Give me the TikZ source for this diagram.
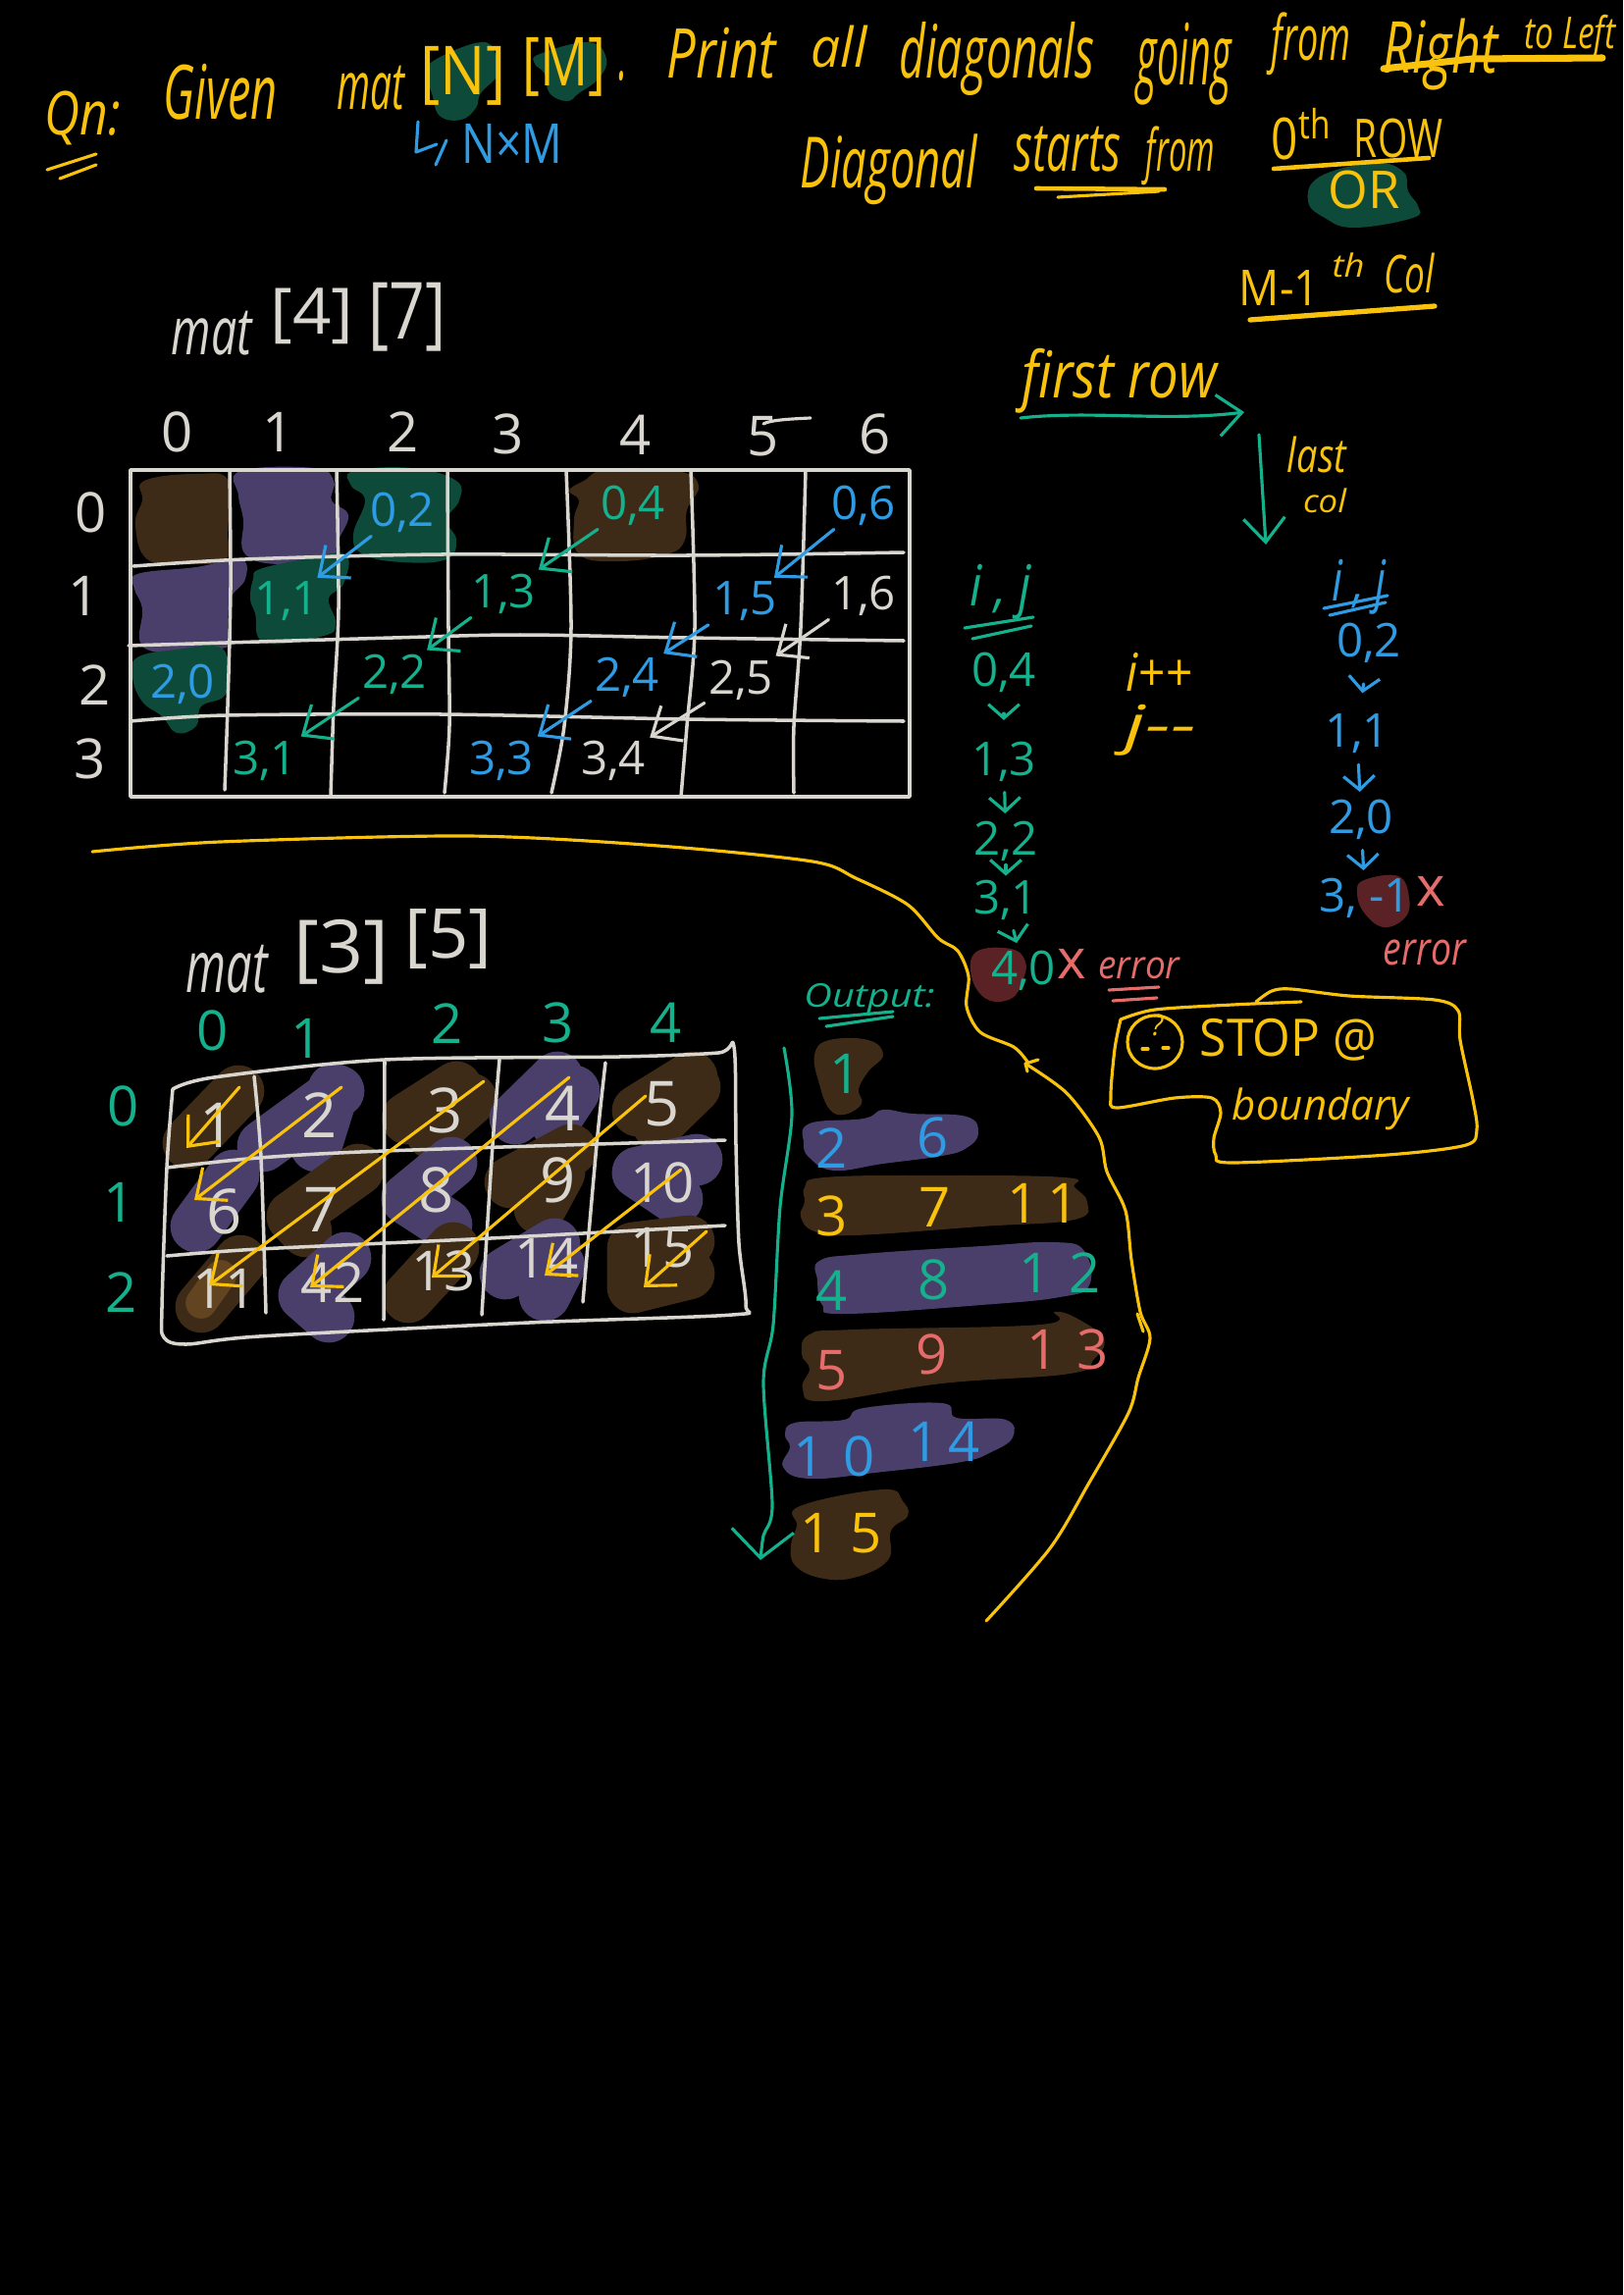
\documentclass[tikz,border=0pt]{standalone}
\usepackage{graphicx}
\usepackage{fontspec}
\setmainfont{Open Sans}
\usetikzlibrary{arrows.meta}

\definecolor{inkyellow}{HTML}{F8C20D}
\definecolor{inkteal}{HTML}{15B08C}
\definecolor{inkblue}{HTML}{2F9BE2}
\definecolor{inkwhite}{HTML}{D9D6CF}
\definecolor{inkpink}{HTML}{E66B6B}
\definecolor{blobbrown}{HTML}{3D2A17}
\definecolor{blobpurple}{HTML}{4A3F6B}
\definecolor{blobgreen}{HTML}{0E4A3A}
\definecolor{blobred}{HTML}{5A2225}
\definecolor{blobtan}{HTML}{634420}

\newcommand{\hand}[3]{\resizebox*{#1cm}{#2cm}{\itshape #3}}
\newcommand{\blob}[2]{\fill[#1] plot[smooth cycle,tension=0.7] coordinates {#2};}

\tikzset{
  word/.style={inner sep=0pt,text=#1},
  num/.style={inner sep=1pt,text=#1,font=\fontsize{13.5}{14}\selectfont},
  big/.style={inner sep=1pt,text=#1,font=\fontsize{16}{16}\selectfont},
  huge/.style={inner sep=1pt,text=#1,font=\fontsize{18}{18}\selectfont},
  ink/.style={draw=#1,line width=0.9pt,line cap=round,line join=round},
  gridline/.style={draw=inkwhite,line width=1pt,line cap=round,line join=round},
  tipbig/.style={ink=#1,-{Straight Barb[length=7pt,width=12pt]}},
  tipsmall/.style={ink=#1,shorten <=2pt,shorten >=1pt,-{Straight Barb[length=4pt,width=9pt]}},
  swipe/.style={draw=#1,line width=15pt,line cap=round,line join=round},
}

\begin{document}
\begin{tikzpicture}[x=0.01cm,y=-0.01cm]
        \useasboundingbox (0,0) rectangle (1654,2339);
        \fill[black] (0,0) rectangle (1654,2339);

        % Highlights of the heading
        \blob{blobgreen}{(445,60)(490,43)(505,55)(508,75)(490,95)(485,110)(470,122)(448,118)(440,95)(434,75)}
        \blob{blobgreen}{(550,55)(600,43)(618,60)(610,80)(590,95)(578,103)(560,95)(555,75)(545,65)}
        \blob{blobgreen}{(1345,180)(1400,166)(1430,175)(1435,195)(1445,210)(1440,222)(1380,232)(1350,222)(1333,205)}

        % Heading
        \node[word=inkyellow] (Qn) at (84,120) {\hand{0.77}{0.55}{Qn:}};
        \node[word=inkyellow] (Given) at (225,94) {\hand{1.16}{0.57}{Given}};
        \node[word=inkyellow] (Mat) at (378,90) {\hand{0.69}{0.45}{mat}};
        \node[word=inkyellow] (BrN) at (472,77) {\hand{0.87}{0.60}{\upshape [N]}};
        \node[word=inkyellow] (BrM) at (575,68) {\hand{0.85}{0.60}{\upshape [M]}};
        \node[word=inkyellow] (Dot) at (635,78) {\hand{0.09}{0.10}{.}};
        \node[word=inkyellow] (Print) at (735,54) {\hand{1.11}{0.52}{Print}};
        \node[word=inkyellow] (All) at (855,48) {\hand{0.57}{0.43}{all}};
        \node[word=inkyellow] (Diags) at (1016,60) {\hand{1.99}{0.75}{diagonals}};
        \node[word=inkyellow] (Going) at (1207,65) {\hand{0.96}{0.84}{going}};
        \node[word=inkyellow] (FromA) at (1336,45) {\hand{0.81}{0.64}{from}};
        \node[word=inkyellow] (Right) at (1468,56) {\hand{1.17}{0.73}{Right}};
        \node[word=inkyellow] (ToLeft) at (1600,38) {\hand{0.93}{0.45}{to Left}};
        \node[word=inkblue] (Size) at (522,146) {\hand{1.03}{0.40}{\upshape N×M}};
        \draw[ink=inkblue] (426,124) -- (424,155) -- (445,147);
        \draw[ink=inkblue] (455,143) -- (444,168);
        \draw[ink=inkyellow] (48,173) -- (98,157);
        \draw[ink=inkyellow] (61,182) -- (98,168);
        \draw[ink=inkyellow,line width=2pt] (1410,70) -- (1500,60) -- (1633,59);

        \node[word=inkyellow] (Diagonal) at (906,173) {\hand{1.80}{0.72}{Diagonal}};
        \node[word=inkyellow] (Starts) at (1088,152) {\hand{1.09}{0.46}{starts}};
        \node[word=inkyellow] (FromB) at (1203,159) {\hand{0.70}{0.60}{from}};
        \node[word=inkyellow] (Zeroth) at (1327,137) {\hand{0.62}{0.53}{\upshape 0\textsuperscript{th}}};
        \node[word=inkyellow] (Row) at (1425,141) {\hand{0.90}{0.40}{\upshape ROW}};
        \node[word=inkyellow] (Or) at (1390,194) {\hand{0.73}{0.39}{\upshape OR}};
        \node[word=inkyellow] (Mminus) at (1304,293) {\hand{0.82}{0.36}{\upshape M-1}};
        \node[word=inkyellow] (Th) at (1374,270) {\hand{0.33}{0.25}{th}};
        \node[word=inkyellow] (Col) at (1436,279) {\hand{0.52}{0.41}{Col}};
        \draw[ink=inkyellow,line width=1.3pt] (1056,192) -- (1187,193);
        \draw[ink=inkyellow] (1078,201) -- (1181,195);
        \draw[ink=inkyellow,line width=1.3pt] (1298,172) -- (1456,161);
        \draw[ink=inkyellow,line width=1.5pt] (1274,326) -- (1462,312);

        % First row / last col
        \node[word=inkyellow] (FirstRow) at (1141,388) {\hand{1.99}{0.66}{first row}};
        \node[word=inkyellow] (Last) at (1342,463) {\hand{0.60}{0.37}{last}};
        \node[word=inkyellow] (ColB) at (1350,510) {\hand{0.44}{0.25}{col}};
        \coordinate (RowA) at (1040,426);
        \coordinate (RowB) at (1268,420);
        \coordinate (ColA) at (1283,443);
        \coordinate (ColZ) at (1290,555);
        \draw[tipbig=inkteal] (RowA) .. controls (1110,418) and (1190,430) .. (RowB);
        \draw[tipbig=inkteal] (ColA) -- (ColZ);

        % mat[4][7]
        \node[word=inkwhite] (MatA) at (216,340) {\hand{0.82}{0.45}{mat}};
        \node[word=inkwhite] (BrFour) at (318,322) {\hand{0.85}{0.57}{\upshape [4]}};
        \node[word=inkwhite] (BrSeven) at (415,323) {\hand{0.79}{0.70}{\upshape [7]}};

        \blob{blobbrown}{(147,490)(200,483)(233,490)(232,540)(230,570)(190,575)(150,570)(138,535)(145,510)}
        \blob{blobpurple}{(245,480)(320,477)(340,490)(338,510)(355,525)(345,550)(340,565)(290,575)(250,565)(248,530)(243,505)}
        \blob{blobgreen}{(360,480)(420,477)(465,490)(468,510)(455,530)(465,550)(455,570)(410,573)(370,565)(360,545)(372,510)(358,495)}
        \blob{blobbrown}{(595,490)(620,478)(690,480)(712,495)(700,520)(698,550)(680,565)(630,572)(590,565)(585,530)(590,510)(580,500)}
        \blob{blobpurple}{(140,585)(200,578)(245,570)(250,590)(235,610)(232,640)(230,660)(150,662)(145,620)(137,600)}
        \blob{blobgreen}{(265,580)(310,570)(352,565)(350,595)(335,610)(342,635)(330,648)(270,655)(260,625)(255,610)(258,590)}
        \blob{blobgreen}{(140,670)(180,662)(225,660)(232,690)(228,710)(205,720)(200,740)(180,747)(165,730)(145,715)(135,690)}

        % Grid 4x7
        \draw[gridline] (133,479) rectangle (927,812);
        \draw[gridline] plot[smooth] coordinates {(234,479)(235,600)(232,720)(229,805)};
        \draw[gridline] plot[smooth] coordinates {(343,479)(345,620)(340,720)(337,812)};
        \draw[gridline] plot[smooth] coordinates {(456,479)(457,640)(458,740)(453,808)};
        \draw[gridline] plot[smooth] coordinates {(577,479)(582,640)(575,740)(562,808)};
        \draw[gridline] plot[smooth] coordinates {(704,479)(708,640)(700,740)(694,812)};
        \draw[gridline] plot[smooth] coordinates {(821,479)(816,640)(809,740)(809,808)};
        \draw[gridline] plot[smooth] coordinates {(136,577)(250,570)(450,565)(700,566)(921,563)};
        \draw[gridline] plot[smooth] coordinates {(131,658)(400,650)(530,647)(700,650)(921,653)};
        \draw[gridline] plot[smooth] coordinates {(133,735)(230,729)(450,728)(700,733)(921,735)};

        \node[big=inkwhite] (CA0) at (181,440) {0};
        \node[big=inkwhite] (CA1) at (284,440) {1};
        \node[big=inkwhite] (CA2) at (411,440) {2};
        \node[big=inkwhite] (CA3) at (518,442) {3};
        \node[big=inkwhite] (CA4) at (648,443) {4};
        \node[big=inkwhite] (CA5) at (778,445) {5};
        \node[big=inkwhite] (CA6) at (892,442) {6};
        \draw[ink=inkwhite] (778,432) .. controls (785,428) and (805,427) .. (826,426);
        \node[big=inkwhite] (RA0) at (93,522) {0};
        \node[big=inkwhite] (RA1) at (86,607) {1};
        \node[big=inkwhite] (RA2) at (97,698) {2};
        \node[big=inkwhite] (RA3) at (92,773) {3};

        \node[num=inkblue] (A02) at (410,522) {0,2};
        \node[num=inkteal] (A04) at (645,515) {0,4};
        \node[num=inkblue] (A06) at (880,515) {0,6};
        \node[num=inkteal] (A11) at (292,613) {1,1};
        \node[num=inkteal] (A13) at (513,605) {1,3};
        \node[num=inkblue] (A15) at (759,613) {1,5};
        \node[num=inkwhite] (A16) at (880,607) {1,6};
        \node[num=inkblue] (A20) at (186,697) {2,0};
        \node[num=inkteal] (A22) at (402,687) {2,2};
        \node[num=inkblue] (A24) at (639,690) {2,4};
        \node[num=inkwhite] (A25) at (755,693) {2,5};
        \node[num=inkteal] (A31) at (270,775) {3,1};
        \node[num=inkblue] (A33) at (511,775) {3,3};
        \node[num=inkwhite] (A34) at (625,775) {3,4};

        \draw[tipbig=inkblue] (A02) -- (A11);
        \draw[tipbig=inkblue] (A06) -- (A15);
        \draw[tipbig=inkblue] (A15) -- (A24);
        \draw[tipbig=inkblue] (A24) -- (A33);
        \draw[tipbig=inkteal] (A04) -- (A13);
        \draw[tipbig=inkteal] (A13) -- (A22);
        \draw[tipbig=inkteal] (A22) -- (A31);
        \draw[tipbig=inkwhite] (A16) -- (A25);
        \draw[tipbig=inkwhite] (A25) -- (A34);

        % Traces i,j
        \blob{blobred}{(995,970)(1030,967)(1045,980)(1042,1000)(1030,1018)(1005,1018)(990,995)}
        \blob{blobred}{(1390,897)(1425,893)(1436,915)(1432,935)(1410,945)(1390,930)(1383,910)}

        \node[num=inkteal] (TH) at (1020,603) {\hand{0.62}{0.56}{i , j}};
        \node[num=inkteal] (T04) at (1023,685) {0,4};
        \node[num=inkteal] (T13) at (1023,776) {1,3};
        \node[num=inkteal] (T22) at (1025,857) {2,2};
        \node[num=inkteal] (T31) at (1025,917) {3,1};
        \node[num=inkteal] (T40) at (1043,989) {4,0};
        \draw[ink=inkteal] (983,640) -- (1053,629);
        \draw[ink=inkteal] (991,651) -- (1051,638);
        \draw[tipsmall=inkteal,shorten <=5pt,shorten >=5pt] (T04) -- (T13);
        \draw[tipsmall=inkteal] (T13) -- (T22);
        \draw[tipsmall=inkteal,shorten <=0pt,shorten >=0pt] (T22) -- (T31);
        \draw[tipsmall=inkteal] (T31) -- (T40);
        \node[big=inkpink] (CrossA) at (1092,982) {x};
        \node[word=inkpink] (ErrA) at (1161,987) {\hand{0.83}{0.22}{error}};
        \draw[ink=inkpink] (1130,1009) -- (1181,1006);
        \draw[ink=inkpink] (1134,1020) -- (1179,1017);

        \node[word=inkyellow] (IncI) at (1181,685) {\hand{0.67}{0.39}{i++}};
        \node[word=inkyellow] (DecJ) at (1183,744) {\hand{0.72}{0.52}{j{-}{-}}};

        \node[num=inkblue] (UH) at (1385,598) {\hand{0.55}{0.56}{i , j}};
        \node[num=inkblue] (U02) at (1395,655) {0,2};
        \node[num=inkblue] (U11) at (1383,748) {1,1};
        \node[num=inkblue] (U20) at (1387,835) {2,0};
        \node[num=inkblue] (U31) at (1391,915) {3, -1};
        \draw[ink=inkblue] (1349,620) -- (1414,607);
        \draw[ink=inkblue] (1355,627) -- (1412,614);
        \draw[tipsmall=inkblue,shorten <=5pt,shorten >=5pt] (U02) -- (U11);
        \draw[tipsmall=inkblue] (U11) -- (U20);
        \draw[tipsmall=inkblue] (U20) -- (U31);
        \node[big=inkpink] (CrossB) at (1458,908) {x};
        \node[word=inkpink] (ErrB) at (1452,971) {\hand{0.84}{0.26}{error}};

        % Stop box
        \draw[ink=inkyellow] plot[smooth,tension=0.5] coordinates {(1142,1039)(1177,1029)(1256,1024)(1326,1021)};
        \draw[ink=inkyellow] plot[smooth,tension=0.5] coordinates {(1280,1021)(1296,1010)(1316,1008)(1375,1015)(1462,1019)(1486,1030)(1488,1060)(1501,1121)(1505,1151)(1494,1167)(1414,1177)(1256,1185)(1239,1177)(1237,1160)(1244,1134)(1235,1119)(1197,1119)(1138,1129)(1132,1117)(1136,1069)(1142,1039)};
        \draw[ink=inkyellow] (1177,1062) ellipse (28 and 27);
        \draw[ink=inkyellow] (1164,1069) -- (1170,1069);
        \draw[ink=inkyellow] (1185,1068) -- (1191,1068);
        \node[word=inkyellow] (Query) at (1179,1045) {\hand{0.12}{0.22}{?}};
        \node[word=inkyellow] (Stop) at (1313,1060) {\hand{1.80}{0.43}{\upshape STOP @}};
        \node[word=inkyellow] (Boundary) at (1346,1130) {\hand{1.80}{0.43}{boundary}};

        % Separating curve
        \draw[ink=inkyellow] plot[smooth] coordinates {(94,868)(224,858)(477,852)(671,862)(828,878)(872,895)(925,922)(956,956)(976,969)(987,995)(985,1026)(999,1052)(1033,1067)(1047,1082)};
        \draw[ink=inkyellow] plot[smooth] coordinates {(1045,1084)(1087,1114)(1120,1159)(1128,1194)(1147,1234)(1153,1284)(1162,1337)(1172,1364)(1160,1404)(1150,1440)(1110,1511)(1070,1578)(1005,1652)};
        \draw[ink=inkyellow] (1058,1080) -- (1045,1084) -- (1047,1092);
        \draw[ink=inkyellow] (1159,1339) -- (1165,1357);

        % mat[3][5]
        \node[word=inkwhite] (MatB) at (231,988) {\hand{0.83}{0.49}{mat}};
        \node[word=inkwhite] (BrThree) at (348,970) {\hand{0.97}{0.66}{\upshape [3]}};
        \node[word=inkwhite] (BrFive) at (457,957) {\hand{0.89}{0.61}{\upshape [5]}};

        \draw[swipe=blobbrown] (243,1112) -- (192,1165);
        \draw[swipe=blobpurple] (345,1112) -- (268,1168);
        \draw[swipe=blobpurple] (340,1110) -- (322,1168);
        \draw[swipe=blobbrown] (465,1108) -- (415,1140);
        \draw[swipe=blobbrown] (480,1120) -- (440,1155);
        \draw[swipe=blobpurple] (568,1098) -- (525,1140);
        \draw[swipe=blobpurple] (585,1112) -- (565,1142);
        \draw[swipe=blobbrown] (705,1098) -- (650,1132);
        \draw[swipe=blobbrown] (708,1108) -- (670,1145);
        \draw[swipe=blobpurple] (238,1198) -- (200,1250);
        \draw[swipe=blobbrown] (365,1192) -- (298,1240) -- (312,1255);
        \draw[swipe=blobpurple] (460,1185) -- (415,1222) -- (455,1248);
        \draw[swipe=blobbrown] (582,1172) -- (520,1205);
        \draw[swipe=blobbrown] (570,1195) -- (550,1232);
        \draw[swipe=blobpurple] (710,1182) -- (650,1195) -- (690,1222);
        \draw[swipe=blobbrown] (245,1285) -- (205,1332);
        \draw[swipe=blobtan,line width=9pt] (225,1300) -- (205,1328);
        \draw[swipe=blobpurple] (352,1282) -- (310,1320) -- (335,1342);
        \draw[swipe=blobbrown] (462,1272) -- (416,1322);
        \draw[swipe=blobpurple] (565,1268) -- (515,1298);
        \draw[swipe=blobpurple] (570,1290) -- (555,1320);
        \draw[swipe=blobbrown] (702,1265) -- (645,1272) -- (645,1312) -- (702,1298);

        % Grid 3x5
        \draw[gridline] plot[smooth,tension=0.5] coordinates {(176,1110)(218,1098)(392,1080)(631,1077)(732,1073)(748,1067)(750,1167)(753,1267)(760,1330)(746,1340)(539,1348)(264,1362)(190,1370)(167,1363)(165,1333)(170,1190)(176,1110)};
        \draw[gridline] plot[smooth] coordinates {(259,1097)(266,1180)(271,1338)};
        \draw[gridline] (392,1082) -- (391,1345);
        \draw[gridline] plot[smooth] coordinates {(509,1080)(502,1167)(491,1340)};
        \draw[gridline] plot[smooth] coordinates {(617,1083)(608,1167)(594,1327)};
        \draw[gridline] plot[smooth] coordinates {(170,1190)(264,1180)(392,1173)(739,1162)};
        \draw[gridline] plot[smooth] coordinates {(170,1280)(264,1273)(500,1262)(739,1249)};

        \node[big=inkteal] (CB0) at (217,1050) {0};
        \node[big=inkteal] (CB1) at (313,1058) {1};
        \node[big=inkteal] (CB2) at (456,1043) {2};
        \node[big=inkteal] (CB3) at (569,1042) {3};
        \node[big=inkteal] (CB4) at (679,1042) {4};
        \node[big=inkteal] (RB0) at (126,1127) {0};
        \node[big=inkteal] (RB1) at (122,1225) {1};
        \node[big=inkteal] (RB2) at (124,1317) {2};

        \node[huge=inkwhite] (B1) at (222,1147) {1};
        \node[huge=inkwhite] (B2) at (326,1137) {2};
        \node[huge=inkwhite] (B3) at (454,1132) {3};
        \node[huge=inkwhite] (B4) at (574,1130) {4};
        \node[huge=inkwhite] (B5) at (675,1125) {5};
        \node[huge=inkwhite] (B6) at (229,1235) {6};
        \node[huge=inkwhite] (B7) at (328,1233) {7};
        \node[huge=inkwhite] (B8) at (445,1213) {8};
        \node[huge=inkwhite] (B9) at (569,1203) {9};
        \node[big=inkwhite] (B10) at (675,1205) {10};
        \node[big=inkwhite] (B11) at (229,1313) {11};
        \node[big=inkwhite] (B12) at (339,1307) {42};
        \node[big=inkwhite] (B13) at (452,1295) {13};
        \node[big=inkwhite] (B14) at (557,1282) {14};
        \node[big=inkwhite] (B15) at (675,1272) {15};

        % Diagonals of the grid
        \coordinate (D1s) at (244,1108);
        \coordinate (D1e) at (190,1170);
        \coordinate (D2s) at (348,1108);
        \coordinate (D2e) at (198,1223);
        \coordinate (D3s) at (493,1102);
        \coordinate (D3e) at (213,1310);
        \coordinate (D4s) at (580,1098);
        \coordinate (D4e) at (316,1312);
        \coordinate (D5s) at (658,1117);
        \coordinate (D5e) at (440,1302);
        \coordinate (D6s) at (694,1192);
        \coordinate (D6e) at (555,1300);
        \coordinate (D7s) at (720,1255);
        \coordinate (D7e) at (656,1312);
        \draw[tipbig=inkyellow] (D1s) -- (D1e);
        \draw[tipbig=inkyellow] (D2s) -- (D2e);
        \draw[tipbig=inkyellow] (D3s) -- (D3e);
        \draw[tipbig=inkyellow] (D4s) -- (D4e);
        \draw[tipbig=inkyellow] (D5s) -- (D5e);
        \draw[tipbig=inkyellow] (D6s) -- (D6e);
        \draw[tipbig=inkyellow] (D7s) -- (D7e);

        % Output
        \blob{blobbrown}{(830,1075)(845,1060)(885,1060)(900,1075)(885,1092)(875,1110)(878,1125)(860,1136)(845,1130)(835,1105)}
        \blob{blobpurple}{(825,1145)(880,1140)(900,1131)(930,1135)(985,1138)(997,1155)(985,1170)(960,1178)(900,1186)(850,1193)(825,1180)(819,1165)}
        \blob{blobbrown}{(820,1210)(840,1200)(950,1198)(1085,1200)(1095,1210)(1108,1225)(1095,1243)(1000,1250)(870,1259)(830,1255)(816,1240)(820,1225)}
        \blob{blobpurple}{(835,1285)(880,1278)(1000,1270)(1075,1266)(1105,1275)(1110,1310)(1080,1322)(1000,1330)(860,1339)(838,1330)(833,1305)}
        \blob{blobbrown}{(825,1360)(870,1355)(1060,1350)(1075,1337)(1100,1345)(1125,1365)(1115,1385)(1090,1400)(960,1410)(840,1428)(818,1415)(825,1395)(817,1380)}
        \blob{blobpurple}{(810,1450)(860,1447)(880,1435)(960,1430)(975,1445)(1025,1447)(1032,1465)(1010,1480)(980,1490)(900,1500)(825,1507)(798,1495)(805,1475)(800,1462)}
        \blob{blobbrown}{(815,1535)(900,1518)(920,1530)(925,1545)(908,1560)(905,1590)(870,1608)(835,1608)(810,1595)(806,1575)(812,1555)}

        \node[word=inkteal] (Output) at (886,1018) {\hand{1.33}{0.32}{Output:}};
        \draw[ink=inkteal] (835,1038) -- (910,1031);
        \draw[ink=inkteal] (842,1046) -- (910,1036);
        \node[big=inkteal] (O1) at (862,1094) {1};
        \node[big=inkblue] (O2) at (848,1170) {2};
        \node[big=inkblue] (O6) at (951,1159) {6};
        \node[big=inkyellow] (O3) at (848,1239) {3};
        \node[big=inkyellow] (O7) at (953,1230) {7};
        \node[big=inkyellow] (O11) at (1063,1226) {1\,1};
        \node[big=inkteal] (O4) at (848,1315) {4};
        \node[big=inkteal] (O8) at (952,1304) {8};
        \node[big=inkteal] (O12) at (1080,1297) {1\,\,2};
        \node[big=inkpink] (O5) at (848,1397) {5};
        \node[big=inkpink] (O9) at (950,1380) {9};
        \node[big=inkpink] (O13) at (1088,1375) {1\,\,3};
        \node[big=inkblue] (O10) at (850,1484) {1\,\,0};
        \node[big=inkblue] (O14) at (962,1469) {1\,4};
        \node[big=inkyellow] (O15) at (857,1563) {1\,\,5};

        \coordinate (OutA) at (799,1068);
        \coordinate (OutZ) at (775,1590);
        \draw[ink=inkteal,-{Straight Barb[length=8pt,width=18pt]}] plot[smooth] coordinates {(OutA)(807,1136)(795,1230)(788,1350)(778,1409)(787,1534)(778,1565)(OutZ)};

\end{tikzpicture}
\end{document}
